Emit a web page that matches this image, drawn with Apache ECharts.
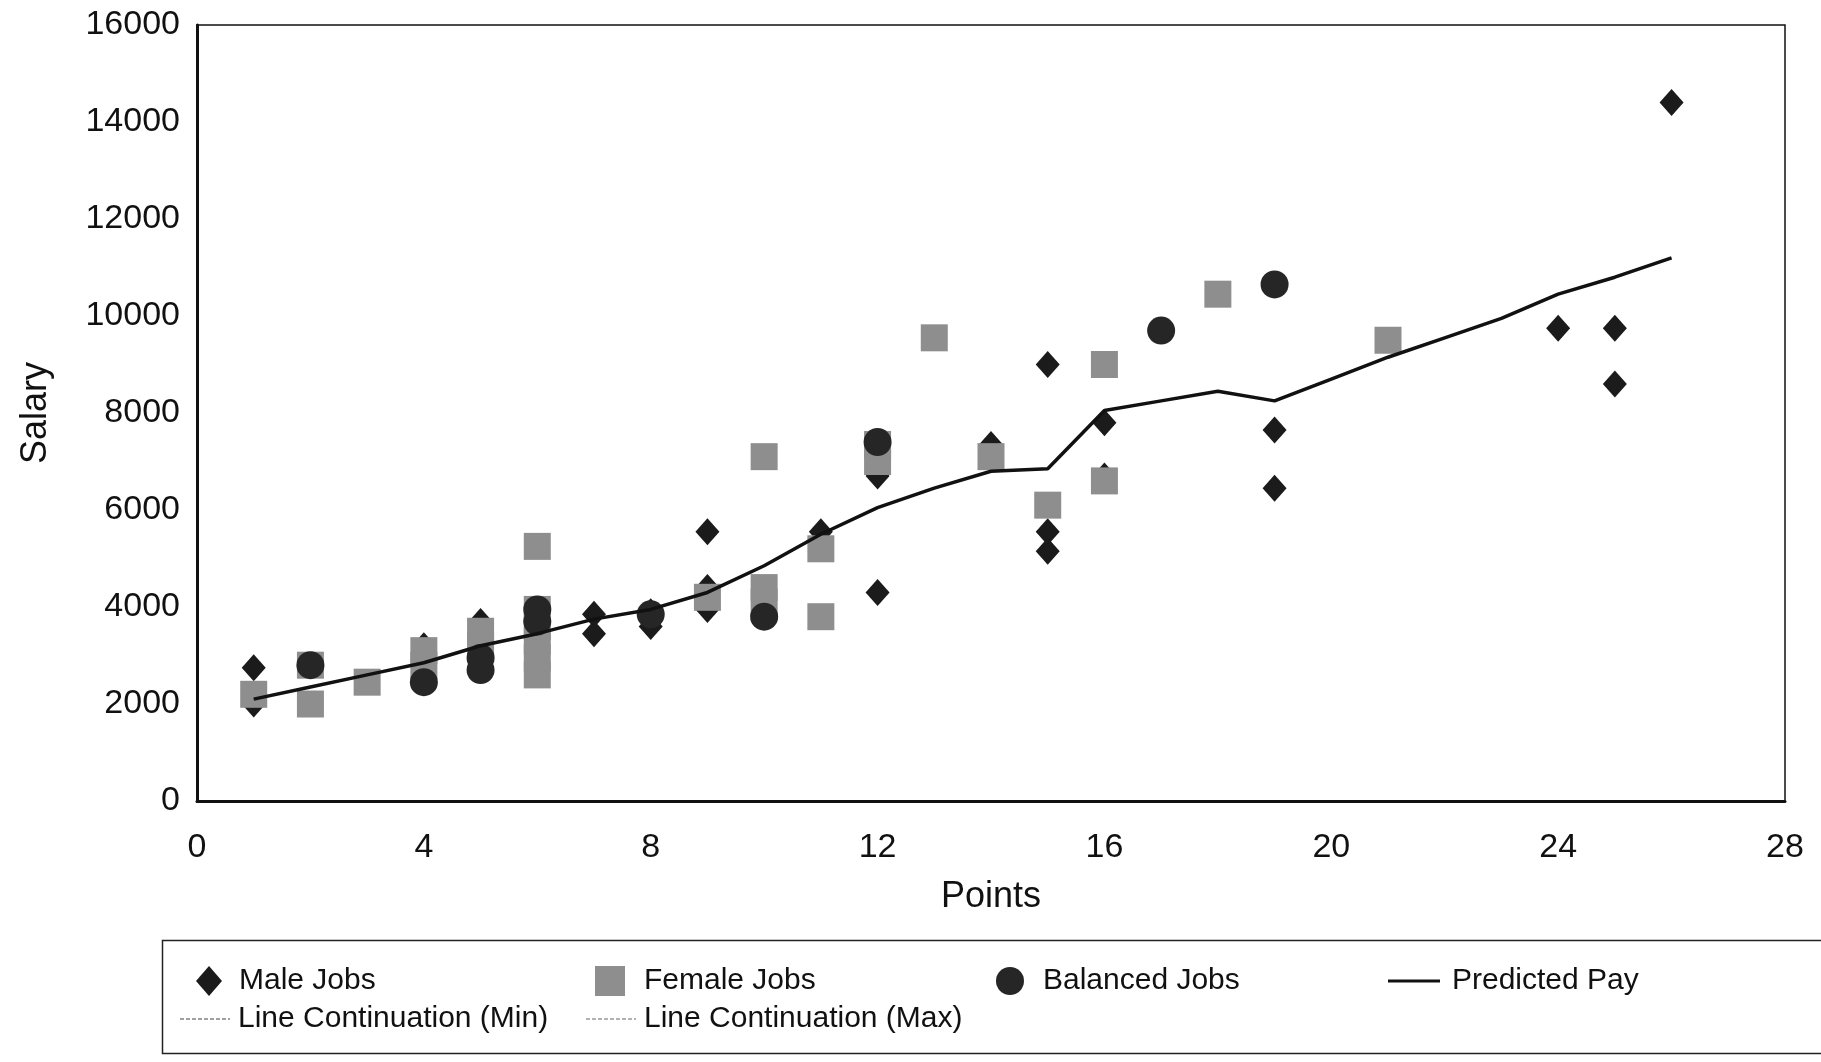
<!DOCTYPE html>
<html>
<head>
<meta charset="utf-8">
<script src="https://cdn.jsdelivr.net/npm/echarts@6/dist/echarts.min.js"></script>
<style>
html,body{margin:0;padding:0;background:#fff;}
#chart{width:1821px;height:1062px;}
</style>
</head>
<body>
<div id="chart"></div>
<script>
// Points, Salary pairs
const maleJobs = [
  [1, 2750], [1, 2000], [4, 3200], [5, 3700], [7, 3850], [7, 3450],
  [8, 3600], [8, 3900], [9, 5550], [9, 4400], [9, 3950], [11, 5550],
  [12, 6700], [12, 4300], [14, 7350], [15, 9000], [15, 5550], [15, 5150],
  [16, 7800], [16, 6700], [19, 7650], [19, 6450], [24, 9750], [25, 9750],
  [25, 8600], [26, 14400]
];
const femaleJobs = [
  [1, 2200], [2, 2800], [2, 2000], [3, 2450], [4, 3100], [4, 2800],
  [5, 3500], [5, 3200], [6, 5250], [6, 3950], [6, 3600], [6, 3300],
  [6, 2950], [6, 2600], [9, 4200], [10, 7100], [10, 4400], [10, 4100],
  [11, 5200], [11, 3800], [12, 7350], [12, 7000], [13, 9550], [14, 7100],
  [15, 6100], [16, 9000], [16, 6600], [18, 10450], [21, 9500]
];
const balancedJobs = [
  [2, 2800], [4, 2450], [5, 2950], [5, 2700], [6, 3950], [6, 3700],
  [8, 3850], [10, 3800], [12, 7400], [17, 9700], [19, 10650]
];
const predictedPay = [
  [1, 2100], [2, 2350], [3, 2600], [4, 2850], [5, 3200], [6, 3450],
  [7, 3750], [8, 3950], [9, 4300], [10, 4850], [11, 5500], [12, 6050],
  [13, 6450], [14, 6800], [15, 6850], [16, 8050], [17, 8250], [18, 8450],
  [19, 8250], [20, 8700], [21, 9150], [22, 9550], [23, 9950], [24, 10450],
  [25, 10800], [26, 11200]
];
const lineContMin = [];
const lineContMax = [];

const xTicks = { min: 0, max: 28, interval: 4 };
const yTicks = { min: 0, max: 16000, interval: 2000 };

const FONT = 'Liberation Sans';
const chart = echarts.init(document.getElementById('chart'), null, { renderer: 'canvas' });

const DASH_ICON = 'path://M0,0H4V1H0Z M6,0H10V1H6Z M12,0H16V1H12Z M18,0H22V1H18Z M24,0H28V1H24Z M30,0H34V1H30Z M36,0H40V1H36Z M42,0H46V1H42Z M48,0H50V1H48Z';

function leg(name, icon, left, top, w, h, padLeft) {
  return {
    data: [{ name: name, icon: icon }], left: left, top: top, padding: 0,
    itemWidth: w, itemHeight: h, selectedMode: false,
    textStyle: { fontFamily: FONT, fontSize: 30, color: '#111', padding: [0, 0, 0, padLeft] }
  };
}

chart.setOption({
  animation: false,
  backgroundColor: '#fff',
  grid: {
    left: 197, right: 36, top: 25, bottom: 261,
    show: true, borderColor: '#111', borderWidth: 1.5, backgroundColor: 'transparent'
  },
  xAxis: {
    type: 'value', min: xTicks.min, max: xTicks.max, interval: xTicks.interval,
    name: 'Points', nameLocation: 'middle', nameGap: 78,
    nameTextStyle: { fontFamily: FONT, fontSize: 36, color: '#111' },
    axisLine: { show: true, lineStyle: { color: '#111', width: 3 } },
    axisTick: { show: false },
    splitLine: { show: false },
    axisLabel: { fontFamily: FONT, fontSize: 34, color: '#111', margin: 30 }
  },
  yAxis: {
    type: 'value', min: yTicks.min, max: yTicks.max, interval: yTicks.interval,
    name: 'Salary', nameLocation: 'middle', nameGap: 143,
    nameTextStyle: { fontFamily: FONT, fontSize: 36, color: '#111' },
    axisLine: { show: true, lineStyle: { color: '#111', width: 3 } },
    axisTick: { show: false },
    splitLine: { show: false },
    axisLabel: { fontFamily: FONT, fontSize: 34, color: '#111', margin: 17,
      formatter: function (v) { return String(v); } }
  },
  legend: [
    leg('Male Jobs', 'diamond', 196, 966, 26, 30, 12),
    leg('Female Jobs', 'rect', 595, 966, 30, 30, 14),
    leg('Balanced Jobs', 'circle', 996, 966, 28, 28, 14),
    leg('Predicted Pay', 'rect', 1388, 966, 52, 3, 7),
    leg('Line Continuation (Min)', DASH_ICON, 180, 1004, 50, 1.5, 3),
    leg('Line Continuation (Max)', DASH_ICON, 586, 1004, 50, 1.5, 3)
  ],
  graphic: [{
    type: 'rect', left: 160, top: 938,
    shape: { width: 1680, height: 113 },
    style: { fill: 'none', stroke: '#222', lineWidth: 1.5 },
    z: 0
  }],
  series: [
    {
      name: 'Male Jobs', type: 'scatter', data: maleJobs,
      symbol: 'diamond', symbolSize: [24, 27],
      itemStyle: { color: '#1b1b1b', opacity: 1 }, z: 2
    },
    {
      name: 'Female Jobs', type: 'scatter', data: femaleJobs,
      symbol: 'rect', symbolSize: 27,
      itemStyle: { color: '#8e8e8e', opacity: 1 }, z: 3
    },
    {
      name: 'Balanced Jobs', type: 'scatter', data: balancedJobs,
      symbol: 'circle', symbolSize: 28,
      itemStyle: { color: '#262626', opacity: 1 }, z: 4
    },
    {
      name: 'Predicted Pay', type: 'line', data: predictedPay,
      symbol: 'none', showSymbol: false, smooth: false,
      lineStyle: { color: '#111', width: 3.5 }, itemStyle: { color: '#111' }, z: 5
    },
    {
      name: 'Line Continuation (Min)', type: 'line', data: lineContMin,
      symbol: 'none', lineStyle: { color: '#444', width: 1.5, type: 'dashed' },
      itemStyle: { color: '#444' }
    },
    {
      name: 'Line Continuation (Max)', type: 'line', data: lineContMax,
      symbol: 'none', lineStyle: { color: '#666', width: 1.5, type: 'dotted' },
      itemStyle: { color: '#666' }
    }
  ]
});
</script>
</body>
</html>
